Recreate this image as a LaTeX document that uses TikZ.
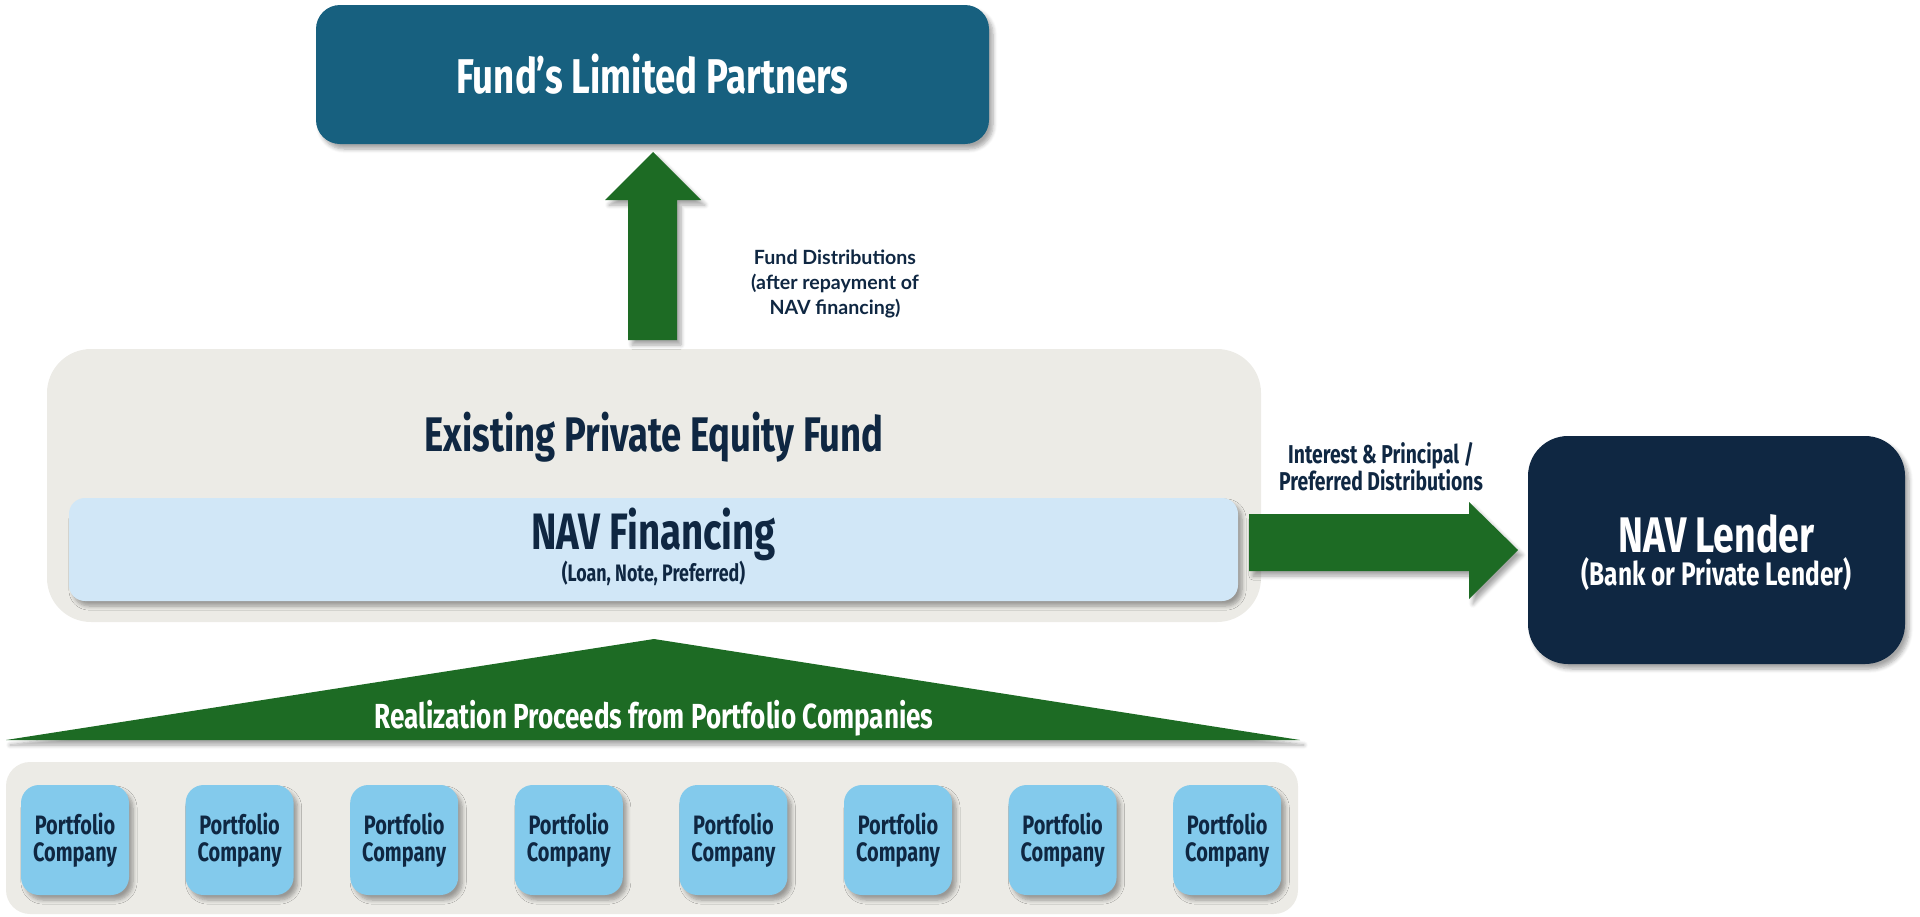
\documentclass[tikz,border=0pt]{standalone}
\usepackage{fontspec}
\setmainfont{Lato}
\newfontfamily\narrowfont[FakeStretch=0.75]{Fira Sans}
\usepackage{xcolor}
\usetikzlibrary{shadows.blur}

\definecolor{lpblue}{HTML}{17607F}
\definecolor{navy}{HTML}{0F2742}
\definecolor{fundgray}{HTML}{ECEBE6}
\definecolor{navlight}{HTML}{D1E7F7}
\definecolor{arrowgreen}{HTML}{1D6B24}
\definecolor{pcblue}{HTML}{83CAEC}

\begin{document}
\begin{tikzpicture}[x=0.5pt, y=-0.5pt,
  shade/.style={blur shadow={shadow xshift=2pt, shadow yshift=-2.5pt, shadow blur steps=6, shadow opacity=35}},
  box/.style={rounded corners=10pt, inner sep=0pt, align=center},
  title/.style={text=navy, align=center, inner sep=0pt, font=\narrowfont\bfseries\fontsize{#1}{#1}\selectfont},
  pcbox/.style={box, fill=pcblue, shade, rounded corners=9pt, minimum width=54pt, minimum height=55pt,
    text=navy, font=\narrowfont\bfseries\fontsize{13.3}{13.8}\selectfont}]
  \useasboundingbox (0,0) rectangle (1920,916);

  % top box
  \node[box, fill=lpblue, shade, rounded corners=12pt, minimum width=336.5pt, minimum height=69.5pt] (lp) at (652.5,74.5) {};
  \node[title=24.4, text=white] (lptext) at (lp.center) {Fund’s Limited Partners};

  % fund
  \node[box, fill=fundgray, rounded corners=22pt, minimum width=607pt, minimum height=136.5pt] (fund) at (654,485.5) {};
  \node[title=24.3] (fundtext) at (654,437) {Existing Private Equity Fund};
  \node[box, fill=navlight, shade, rounded corners=8pt, minimum width=584.5pt, minimum height=51.5pt] (navfin) at (653.5,549.5) {};
  \node[title=25.6] (navfintext) at (653.5,534) {NAV Financing};
  \node[title=11.9] (navfinsub) at (653.5,573) {(Loan, Note, Preferred)};

  % lender
  \node[box, fill=navy, shade, rounded corners=20pt, minimum width=188.5pt, minimum height=114pt] (lender) at (1716.5,550) {};
  \node[title=25, text=white] (lendertext) at (1716.5,534) {NAV Lender};
  \node[title=16.3, text=white] (lendersub) at (1716.5,574) {(Bank or Private Lender)};

  % arrows
  \fill[arrowgreen, shade] (628,340) -- (628,200) -- (605,200) -- (653,152) -- (701,200) -- (677,200) -- (677,340) -- cycle;
  \node[text=navy, align=center, font=\bfseries\fontsize{9.8}{12.3}\selectfont] (distlabel) at (835,284) {Fund Distributions\\(after repayment of\\NAV financing)};

  \fill[arrowgreen, shade] (1249,514) -- (1469,514) -- (1469,502) -- (1518,550) -- (1469,599) -- (1469,571) -- (1249,571) -- cycle;
  \node[text=navy, align=center, inner sep=0pt, font=\narrowfont\bfseries\fontsize{12.9}{13.6}\selectfont] (paylabel) at (1381,467) {Interest \& Principal /\\Preferred Distributions};

  % proceeds
  \fill[arrowgreen, shade] (6,740) -- (654,639) -- (1300,740) -- cycle;
  \node[title=17.4, text=white] (proceeds) at (654,718) {Realization Proceeds from Portfolio Companies};

  % portfolio companies
  \node[box, fill=fundgray, rounded corners=12pt, minimum width=646pt, minimum height=76pt] (strip) at (652,838) {};
  \foreach \i in {0,...,7}
    \node[pcbox] (pc\i) at (75+164.6*\i,840) {Portfolio\\Company};
\end{tikzpicture}
\end{document}
